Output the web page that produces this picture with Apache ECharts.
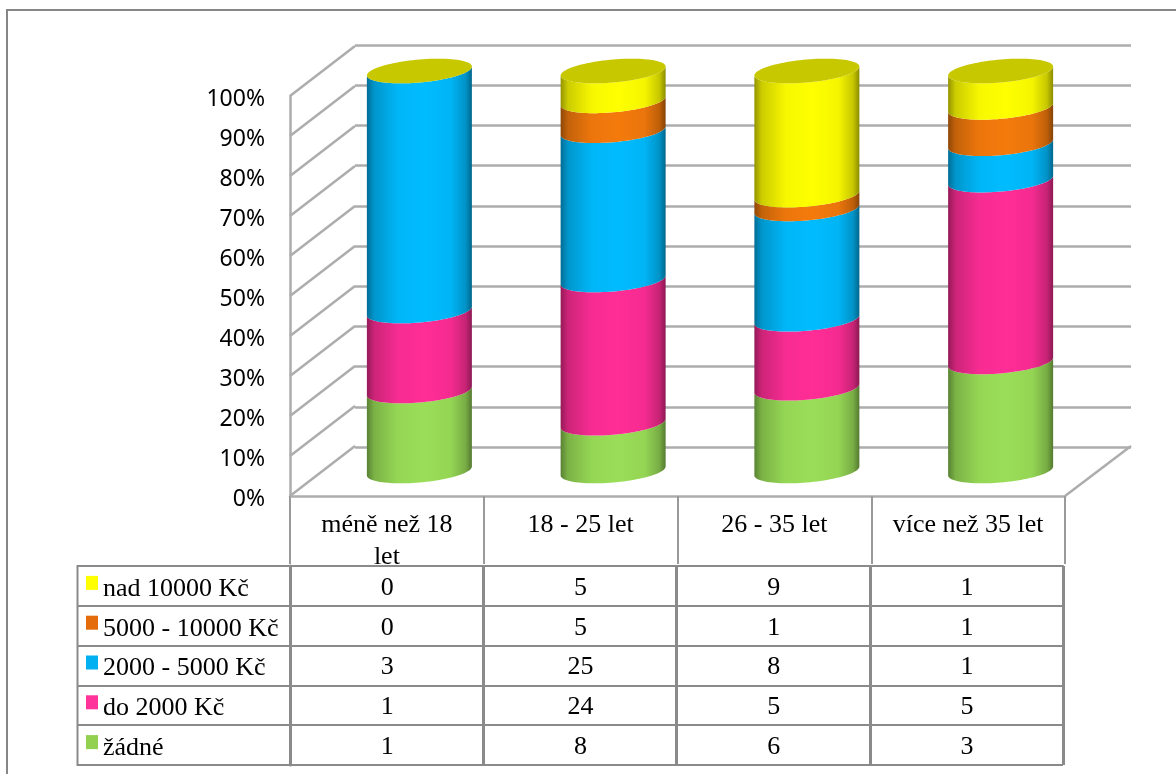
<!DOCTYPE html>
<html>
<head>
<meta charset="utf-8">
<style>html,body{margin:0;padding:0;background:#fff}#c{width:1176px;height:774px}</style>
<script src="https://cdn.jsdelivr.net/npm/echarts@6/dist/echarts.min.js"></script>
</head>
<body>
<div id="c"></div>
<script>
// ---- data ----
const categories = ['méně než 18\nlet', '18 - 25 let', '26 - 35 let', 'více než 35 let'];
const zadne   = [1, 8, 6, 3];
const do2000  = [1, 24, 5, 5];
const do5000  = [3, 25, 8, 1];
const do10000 = [0, 5, 1, 1];
const nad10000 = [0, 5, 9, 1];
const rowNames = ['nad 10000 Kč', '5000 - 10000 Kč', '2000 - 5000 Kč', 'do 2000 Kč', 'žádné'];
const percentTicks = [0, 10, 20, 30, 40, 50, 60, 70, 80, 90, 100];

// ---- styling ----
const stacksBottomUp = [
  { name: 'žádné', values: zadne, rgb: [154, 222, 88], key: '#92d050' },
  { name: 'do 2000 Kč', values: do2000, rgb: [255, 45, 150], key: '#ff3399' },
  { name: '2000 - 5000 Kč', values: do5000, rgb: [0, 188, 255], key: '#00b0f0' },
  { name: '5000 - 10000 Kč', values: do10000, rgb: [244, 122, 12], key: '#e46c0a' },
  { name: 'nad 10000 Kč', values: nad10000, rgb: [255, 255, 0], key: '#ffff00' }
];
const rowsTopDown = [nad10000, do10000, do5000, do2000, zadne];
const WALL_DX = 65, WALL_DY = -50;
const RX = 52.5, RY = 11.5, TILT = 0.085;
const WALL = '#adadad', TABLE = '#8a8a8a';
const SERIF = '"Liberation Serif", serif';
const TEXT_SIZE = 26;

function shade(rgb, f) { return 'rgb(' + rgb.map(v => Math.round(v * f)).join(',') + ')'; }
function sideFill(rgb) {
  return new echarts.graphic.LinearGradient(0, 0, 1, 0, [
    { offset: 0, color: shade(rgb, 0.58) },
    { offset: 0.07, color: shade(rgb, 0.8) },
    { offset: 0.3, color: shade(rgb, 0.97) },
    { offset: 0.55, color: shade(rgb, 1) },
    { offset: 0.8, color: shade(rgb, 0.96) },
    { offset: 0.94, color: shade(rgb, 0.78) },
    { offset: 1, color: shade(rgb, 0.55) }
  ]);
}
function rim(cx, cy, fromT, toT, n) {
  const pts = [];
  for (let i = 0; i <= n; i++) {
    const t = fromT + (toT - fromT) * i / n;
    const c = Math.cos(t);
    pts.push([cx + RX * c, cy - RX * c * TILT + RY * Math.sin(t)]);
  }
  return pts;
}

// cumulative percentages per category
const totals = categories.map((_, i) => stacksBottomUp.reduce((s, g) => s + g.values[i], 0));
const cylinderSeries = stacksBottomUp.map((group, gi) => {
  const data = categories.map((_, i) => {
    let below = 0;
    for (let k = 0; k < gi; k++) below += stacksBottomUp[k].values[i];
    return [i, below / totals[i] * 100, (below + group.values[i]) / totals[i] * 100];
  });
  const isTop = gi === stacksBottomUp.length - 1;
  return {
    type: 'custom', name: group.name, xAxisIndex: 0, yAxisIndex: 0, z: 5 + gi,
    clip: false, silent: true, data: data,
    encode: { x: 0, y: [1, 2] },
    renderItem: function (params, api) {
      const a = api.coord([api.value(0), api.value(1)]);
      const b = api.coord([api.value(0), api.value(2)]);
      const cx = a[0] + WALL_DX / 2, y0 = a[1] + WALL_DY / 2, y1 = b[1] + WALL_DY / 2;
      const children = [{
        type: 'polygon',
        shape: { points: rim(cx, y0, Math.PI, 0, 48).concat(rim(cx, y1, 0, Math.PI, 48)) },
        style: { fill: sideFill(group.rgb) }
      }];
      if (isTop) {
        children.push({
          type: 'polygon',
          shape: { points: rim(cx, y1, 0, Math.PI * 2, 96) },
          style: { fill: '#c8c800' }
        });
      }
      return { type: 'group', children: children };
    }
  };
});

const wallDiagonals = {
  type: 'custom', xAxisIndex: 0, yAxisIndex: 0, z: 2, clip: false, silent: true,
  data: percentTicks.map(p => [p]),
  encode: { y: 0 },
  renderItem: function (params, api) {
    const p = api.coord([0, api.value(0)]);
    const x = params.coordSys.x;
    return { type: 'line',
      shape: { x1: x, y1: p[1], x2: x + WALL_DX, y2: p[1] + WALL_DY },
      style: { stroke: WALL, lineWidth: 2.5 } };
  }
};
const floorEdge = {
  type: 'custom', xAxisIndex: 0, yAxisIndex: 0, z: 2, clip: false, silent: true,
  data: [[0]],
  encode: { y: 0 },
  renderItem: function (params, api) {
    const p = api.coord([0, api.value(0)]);
    const x = params.coordSys.x + params.coordSys.width;
    return { type: 'line',
      shape: { x1: x, y1: p[1], x2: x + WALL_DX + 1, y2: p[1] + WALL_DY },
      style: { stroke: WALL, lineWidth: 2.5 } };
  }
};

const cellData = [];
rowsTopDown.forEach((vals, r) => vals.forEach((v, c) => cellData.push([c, r, v])));
const tableCells = {
  type: 'custom', xAxisIndex: 2, yAxisIndex: 2, silent: true, z: 4,
  data: cellData,
  encode: { x: 0, y: 1 },
  renderItem: function (params, api) {
    const p = api.coord([api.value(0), api.value(1)]);
    return { type: 'text',
      style: { text: String(api.value(2)), x: p[0] + 0.5, y: p[1] + 2, fill: '#000',
        font: TEXT_SIZE + 'px ' + SERIF, align: 'center', verticalAlign: 'middle' } };
  }
};

const keyRich = { t: { fontFamily: SERIF, fontSize: TEXT_SIZE, color: '#000', padding: [0, 0, 0, 5] } };
rowNames.forEach((n, i) => {
  const g = stacksBottomUp.find(s => s.name === n);
  keyRich['k' + i] = { width: 12, height: 14, backgroundColor: g.key, verticalAlign: 'top', lineHeight: 14 };
});

const option = {
  animation: false,
  backgroundColor: '#fff',
  graphic: [
    { type: 'polyline', silent: true, z: 0,
      shape: { points: [[7, 774], [7, 10], [1176, 10]] },
      style: { stroke: '#868686', lineWidth: 2, fill: null } },
    { type: 'line', silent: true, z: 0,
      shape: { x1: 77.5, y1: 565, x2: 77.5, y2: 766 },
      style: { stroke: TABLE, lineWidth: 2 } }
  ],
  grid: [
    { left: 290, top: 96, width: 775, height: 400 },
    { left: 355, top: 45, width: 776, height: 402 },
    { left: 290, top: 566, width: 773, height: 199 }
  ],
  xAxis: [
    { gridIndex: 0, type: 'category', data: categories,
      axisLine: { lineStyle: { color: WALL, width: 2.5 } },
      axisTick: { show: true, length: 68, lineStyle: { color: '#9a9a9a', width: 2 } },
      axisLabel: { interval: 0, margin: 13, color: '#000', fontFamily: SERIF, fontSize: TEXT_SIZE, lineHeight: 32 } },
    { gridIndex: 1, type: 'category', data: categories, show: false },
    { gridIndex: 2, type: 'category', data: categories, position: 'top',
      axisLine: { show: true, lineStyle: { color: TABLE, width: 2 } },
      axisTick: { show: false }, axisLabel: { show: false },
      splitLine: { show: true, interval: 0, lineStyle: { color: TABLE, width: 3 } } }
  ],
  yAxis: [
    { gridIndex: 0, type: 'value', min: 0, max: 100, interval: 10,
      axisLine: { show: true, lineStyle: { color: WALL, width: 2.5 } },
      axisTick: { show: false }, splitLine: { show: false },
      axisLabel: { margin: 25, color: '#000', fontFamily: '"Noto Sans", sans-serif', fontSize: 23,
        verticalAlign: 'top', lineHeight: 6, formatter: '{value}%' } },
    { gridIndex: 1, type: 'value', min: 0, max: 100, interval: 10,
      axisLine: { show: false }, axisTick: { show: false }, axisLabel: { show: false },
      splitLine: { show: true, lineStyle: { color: WALL, width: 2.5 } } },
    { gridIndex: 2, type: 'category', data: rowNames, inverse: true,
      axisLine: { show: true, lineStyle: { color: TABLE, width: 3 } },
      axisTick: { show: true, length: 213, lineStyle: { color: TABLE, width: 2 } },
      axisLabel: { interval: 0, align: 'left', margin: 204, rich: keyRich, padding: [6, 0, 0, 0],
        formatter: function (v, i) { return '{k' + i + '|}{t|' + v + '}'; } },
      splitLine: { show: true, interval: 0, lineStyle: { color: TABLE, width: 2 } } }
  ],
  series: [wallDiagonals, floorEdge].concat(cylinderSeries, [tableCells])
};
echarts.init(document.getElementById('c'), null, { renderer: 'canvas' }).setOption(option);
</script>
</body>
</html>
